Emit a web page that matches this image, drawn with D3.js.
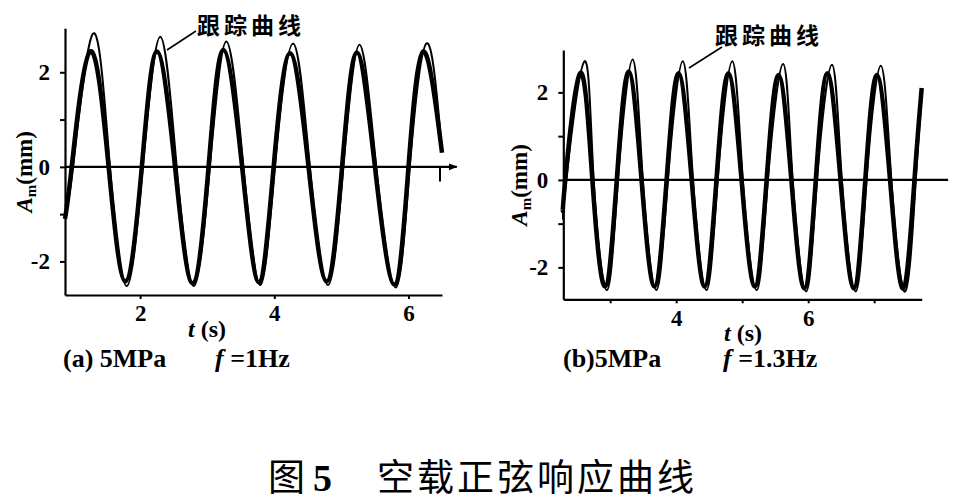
<!DOCTYPE html>
<html>
<head>
<meta charset="utf-8">
<script src="https://cdn.jsdelivr.net/npm/d3@7"></script>
<style>
  body { margin: 0; background: #fff; }
  svg { display: block; }
  .num { font-family: "Liberation Serif", "Times New Roman", serif; font-weight: bold; }
  .cjk { font-family: "Noto Sans CJK SC", sans-serif; }
</style>
</head>
<body>
<div id="chart"></div>
<script>
// panel (a) 5MPa, f = 1Hz : [t (s), A (mm)] read at zero crossings, peaks and troughs
const respA = [
  [0.88,-1.1],[0.98,0],[1.255,2.44],[1.53,0],[1.78,-2.42],[2.025,0],[2.25,2.44],[2.52,0],
  [2.78,-2.46],[3.02,0],[3.24,2.47],[3.52,0],[3.77,-2.44],[3.99,0],[4.235,2.40],[4.51,0],
  [4.78,-2.42],[5.01,0],[5.23,2.42],[5.50,0],[5.79,-2.49],[6.00,0],[6.22,2.44],[6.50,0.3]
];
const trackA = [
  [0.88,-0.8],[1.0,0],[1.30,2.82],[1.55,0],[1.80,-2.52],[2.04,0],[2.30,2.75],[2.545,0],
  [2.80,-2.52],[3.04,0],[3.285,2.65],[3.54,0],[3.79,-2.50],[4.01,0],[4.28,2.61],[4.53,0],
  [4.80,-2.50],[5.03,0],[5.27,2.58],[5.52,0],[5.81,-2.55],[6.02,0],[6.27,2.61],[6.49,0.5]
];
// panel (b) 5MPa, f = 1.3Hz
const respB = [
  [2.29,-0.7],[2.32,0],[2.545,2.44],[2.73,0],[2.92,-2.44],[3.10,0],[3.28,2.48],[3.475,0],
  [3.67,-2.44],[3.855,0],[4.035,2.44],[4.235,0],[4.43,-2.44],[4.61,0],[4.79,2.44],[4.99,0],
  [5.19,-2.44],[5.37,0],[5.55,2.40],[5.745,0],[5.94,-2.48],[6.115,0],[6.29,2.44],[6.49,0],
  [6.69,-2.48],[6.865,0],[7.04,2.40],[7.24,0],[7.44,-2.48],[7.61,0],[7.72,2.10]
];
const trackB = [
  [2.29,-0.9],[2.335,0],[2.61,2.71],[2.75,0],[2.95,-2.52],[3.12,0],[3.34,2.75],[3.495,0],
  [3.70,-2.52],[3.875,0],[4.10,2.71],[4.255,0],[4.46,-2.52],[4.63,0],[4.85,2.71],[5.01,0],
  [5.22,-2.52],[5.39,0],[5.62,2.65],[5.765,0],[5.97,-2.55],[6.135,0],[6.36,2.63],[6.51,0],
  [6.72,-2.55],[6.885,0],[7.10,2.61],[7.26,0],[7.47,-2.55],[7.63,0],[7.72,1.9]
];

const yTicks = [-2, -1, 0, 1, 2];
const yTickLabels = ["-2", "0", "2"];
const xTicksA = [2, 4, 6];
const xTicksB = [3, 4, 5, 6, 7];
const xTickLabels = [2, 4, 6];

const panels = [
  { resp: respA, track: trackA, xDom: [0.88, 6.50], yDom: [-2.71, 2.93],
    left: 65, right: 442, top: 28.3, bottom: 295, zeroEnd: 6.72, arrow: true, stub: 6.47,
    xTicks: xTicksA, name: "(a) 5MPa", freq: " =1Hz", nameX: 63, freqX: 215,
    ylabX: 32, note: [197, 34], lead: [[196, 31], [167, 50]], xlab: [188, 337] },
  { resp: respB, track: trackB, xDom: [2.29, 7.72], yDom: [-2.73, 2.97],
    left: 563.3, right: 921.7, top: 50, bottom: 299.3, zeroEnd: 8.12, arrow: false, stub: null,
    xTicks: xTicksB, name: "(b)5MPa", freq: " =1.3Hz", nameX: 563, freqX: 723,
    ylabX: 527, note: [715, 44], lead: [[722, 47], [689, 68]], xlab: [724, 341] }
];

const svg = d3.select("#chart").append("svg")
    .attr("width", 966)
    .attr("height", 502);

svg.append("defs").append("marker")
    .attr("id", "arr")
    .attr("viewBox", "0 0 10 10")
    .attr("refX", 9).attr("refY", 5)
    .attr("markerWidth", 4).attr("markerHeight", 4)
    .attr("orient", "auto")
  .append("path")
    .attr("d", "M0,1L10,5L0,9Z")
    .attr("fill", "#000");

panels.forEach(p => {
  let x = d3.scaleLinear().domain(p.xDom).range([p.left, p.right]);
  let y = d3.scaleLinear().domain(p.yDom).range([p.bottom, p.top]);
  let g = svg.append("g");

  // axes
  let yAxis = g.append("g")
      .attr("transform", "translate(" + p.left + ",0)")
      .call(d3.axisLeft(y).tickValues(yTicks).tickSize(5).tickSizeOuter(0).tickPadding(10)
        .tickFormat(d => yTickLabels.includes(String(d)) ? String(d) : ""));
  let xAxis = g.append("g")
      .attr("transform", "translate(0," + p.bottom + ")")
      .call(d3.axisBottom(x).tickValues(p.xTicks).tickSize(4).tickSizeOuter(0).tickPadding(6)
        .tickFormat(d => xTickLabels.includes(d) ? String(d) : ""));

  [yAxis, xAxis].forEach(a => {
    a.select(".domain").attr("stroke", "#000").attr("stroke-width", 2.2);
    a.selectAll(".tick line").attr("stroke", "#000").attr("stroke-width", 2);
    a.selectAll(".tick text").attr("class", "num").attr("font-size", 23).attr("fill", "#000");
  });

  // zero line
  g.append("line")
      .attr("x1", p.left).attr("x2", x(p.zeroEnd))
      .attr("y1", y(0)).attr("y2", y(0))
      .attr("stroke", "#000").attr("stroke-width", 2.2)
      .attr("marker-end", p.arrow ? "url(#arr)" : null);
  if (p.stub != null) {
    g.append("line")
        .attr("x1", x(p.stub)).attr("x2", x(p.stub))
        .attr("y1", y(0)).attr("y2", y(-0.31))
        .attr("stroke", "#000").attr("stroke-width", 2);
  }

  let line = d3.line()
      .x(d => x(d[0]))
      .y(d => y(d[1]))
      .curve(d3.curveNatural);

  g.append("path")
      .datum(p.track)
      .attr("fill", "none")
      .attr("stroke", "#000")
      .attr("stroke-width", 2)
      .attr("d", line);

  g.append("path")
      .datum(p.resp)
      .attr("fill", "none")
      .attr("stroke", "#000")
      .attr("stroke-width", 4.5)
      .attr("stroke-linejoin", "round")
      .attr("d", line);

  // y label A_m (mm)
  let yl = g.append("text")
      .attr("class", "num")
      .attr("font-size", 23)
      .attr("text-anchor", "middle")
      .attr("transform", "translate(" + p.ylabX + "," + (y(0) + 5) + ") rotate(-90)");
  yl.append("tspan").attr("font-style", "italic").text("A");
  yl.append("tspan").attr("font-size", 15).attr("dy", 4).text("m");
  yl.append("tspan").attr("dy", -4).text("(mm)");

  // x label t (s)
  let xl = g.append("text")
      .attr("class", "num")
      .attr("font-size", 24)
      .attr("x", p.xlab[0]).attr("y", p.xlab[1]);
  xl.append("tspan").attr("font-style", "italic").text("t");
  xl.append("tspan").text(" (s)");

  // sub caption
  g.append("text")
      .attr("class", "num")
      .attr("font-size", 26)
      .attr("x", p.nameX).attr("y", 367)
      .text(p.name);
  let fq = g.append("text")
      .attr("class", "num")
      .attr("font-size", 26)
      .attr("x", p.freqX).attr("y", 367);
  fq.append("tspan").attr("font-style", "italic").text("f");
  fq.append("tspan").text(p.freq);

  // annotation
  g.append("text")
      .attr("class", "cjk")
      .attr("font-weight", 700)
      .attr("font-size", 23)
      .attr("letter-spacing", 4)
      .attr("x", p.note[0]).attr("y", p.note[1])
      .text("跟踪曲线");
  g.append("line")
      .attr("x1", p.lead[0][0]).attr("y1", p.lead[0][1])
      .attr("x2", p.lead[1][0]).attr("y2", p.lead[1][1])
      .attr("stroke", "#000").attr("stroke-width", 1.6);
});

// figure caption
let cap = svg.append("g");
cap.append("text").attr("class", "cjk").attr("font-size", 37)
    .attr("x", 268).attr("y", 491).text("图");
cap.append("text").attr("class", "num").attr("font-weight", "normal").attr("font-size", 38)
    .attr("x", 313).attr("y", 491).text("5");
cap.append("text").attr("class", "cjk").attr("font-size", 37).attr("letter-spacing", 3)
    .attr("x", 377).attr("y", 491).text("空载正弦响应曲线");
</script>
</body>
</html>
